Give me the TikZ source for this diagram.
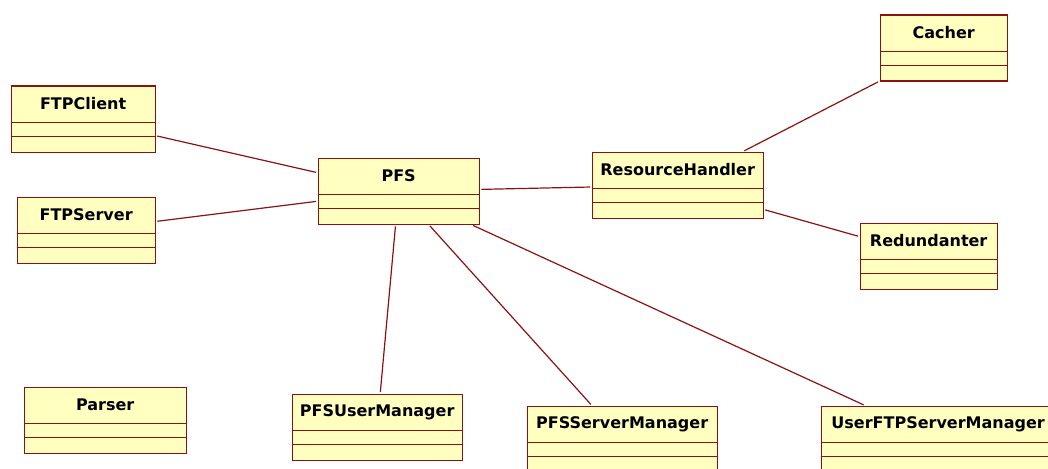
\documentclass[tikz,border=0pt]{standalone}
\usepackage{fontspec}
\setmainfont{DejaVu Sans}
\usetikzlibrary{calc}

\definecolor{umlborder}{RGB}{140,18,18}
\definecolor{umlfill}{RGB}{255,255,192}

\tikzset{
  classbox/.style={draw=umlborder, fill=umlfill, line width=1.3pt,
    rectangle, inner sep=0pt, minimum height=66pt},
  classname/.style={inner sep=0pt, text=black,
    font=\fontsize{16}{19}\selectfont\bfseries},
  classline/.style={draw=umlborder, line width=1.3pt},
  assoc/.style={draw=umlborder, line width=1.2pt, shorten <=1.5pt, shorten >=1.5pt}
}

% name, left, top, width, title
\newcommand{\umlclass}[5]{%
  \node[classbox, minimum width=#4pt, anchor=north west] (#1) at (#2pt,-#3pt) {};
  \node[classname] (#1-title) at ($(#1.north)+(0,-18.5pt)$) {#5};
  \draw[classline] ($(#1.north west)+(0,-37pt)$) -- ($(#1.north east)+(0,-37pt)$);
  \draw[classline] ($(#1.north west)+(0,-51pt)$) -- ($(#1.north east)+(0,-51pt)$);
}

\begin{document}
\begin{tikzpicture}[x=1pt,y=1pt]
  \useasboundingbox (0,0) rectangle (1048,-468);

  \umlclass{ftpclient}{10.5}{85.5}{144}{FTPClient}
  \umlclass{ftpserver}{16.5}{196.5}{138}{FTPServer}
  \umlclass{pfs}{317.5}{157.5}{161}{PFS}
  \umlclass{resource}{591.5}{151.5}{171}{ResourceHandler}
  \umlclass{cacher}{879.5}{14.5}{127}{Cacher}
  \umlclass{redundanter}{859.5}{222.5}{137}{Redundanter}
  \umlclass{parser}{23.5}{386.5}{162}{Parser}
  \umlclass{pfsuser}{291.5}{393.5}{170}{PFSUserManager}
  \umlclass{pfsserver}{526.5}{405.5}{190}{PFSServerManager}
  \umlclass{userftp}{820.5}{405.5}{234}{UserFTPServerManager}

  \draw[assoc] (ftpclient) -- (pfs);
  \draw[assoc] (ftpserver) -- (pfs);
  \draw[assoc] (pfs) -- (resource);
  \draw[assoc] (resource) -- (cacher);
  \draw[assoc] (resource) -- (redundanter);
  \draw[assoc] (pfs) -- (pfsuser);
  \draw[assoc] (pfs) -- (pfsserver);
  \draw[assoc] (pfs) -- (userftp);
\end{tikzpicture}
\end{document}
